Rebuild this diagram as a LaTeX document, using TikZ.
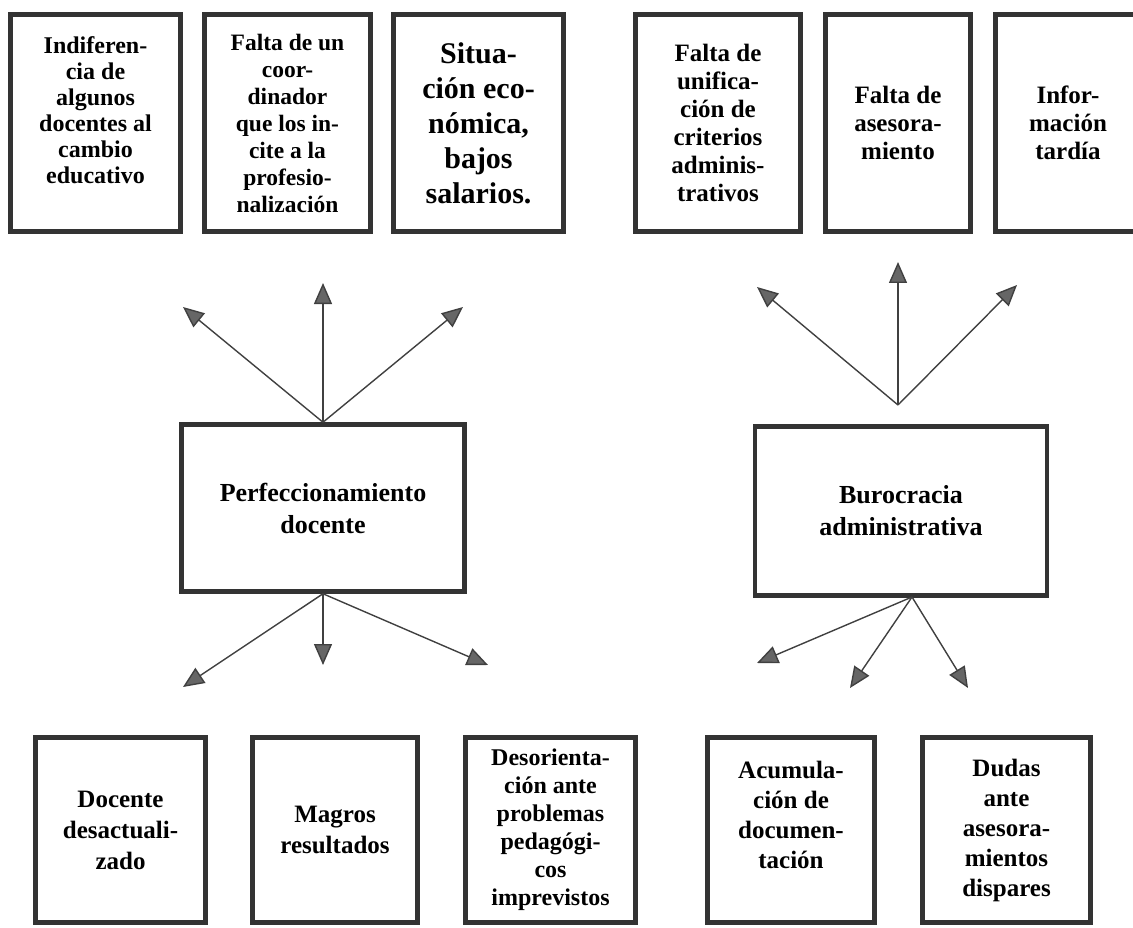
\documentclass[tikz,border=0pt]{standalone}
\usepackage{fontspec}
\setmainfont{Liberation Serif}
\usetikzlibrary{arrows.meta}

\begin{document}
\begin{tikzpicture}[x=1pt,y=-1pt,
  caja/.style={draw=black!80,line width=4.5pt,fill=white,align=center,inner sep=0pt},
  cajaalta/.style={caja,minimum height=217pt},
  cajabaja/.style={caja,minimum height=185pt},
  flecha/.style={draw=black!75,line width=1.4pt,-{Triangle[length=21pt,width=18pt,fill=black!60]}}]
\useasboundingbox (0,0) rectangle (1133,928);

% problemas de arriba
\draw (95.5,123) node[cajaalta,minimum width=170pt,font=\bfseries\fontsize{24}{26}\selectfont](ind) {Indiferen-\\cia de\\algunos\\docentes al\\cambio\\educativo\\\mbox{}};
\draw (287.5,123) node[cajaalta,minimum width=166pt,font=\bfseries\fontsize{23.5}{27}\selectfont](coor) {Falta de un\\coor-\\dinador\\que los in-\\cite a la\\profesio-\\nalización};
\draw (478.5,123) node[cajaalta,minimum width=170pt,font=\bfseries\fontsize{30}{35}\selectfont](sit) {Situa-\\ción eco-\\nómica,\\bajos\\salarios.};
\draw (718,123) node[cajaalta,minimum width=165pt,font=\bfseries\fontsize{25}{28}\selectfont](unif) {Falta de\\unifica-\\ción de\\criterios\\adminis-\\trativos};
\draw (898,123) node[cajaalta,minimum width=145pt,font=\bfseries\fontsize{25}{28}\selectfont](ases) {Falta de\\asesora-\\miento};
\draw (1068,123) node[cajaalta,minimum width=145pt,font=\bfseries\fontsize{25}{28}\selectfont](info) {Infor-\\mación\\tardía};

% centros
\draw (323,508) node[caja,minimum width=283pt,minimum height=167pt,font=\bfseries\fontsize{26}{32}\selectfont](perf) {Perfeccionamiento\\docente};
\draw (901,511) node[caja,minimum width=292pt,minimum height=169pt,font=\bfseries\fontsize{26}{32}\selectfont](buro) {Burocracia\\administrativa};

% consecuencias de abajo
\draw (120.5,830) node[cajabaja,minimum width=170pt,font=\bfseries\fontsize{25}{31}\selectfont](desact) {Docente\\desactuali-\\zado};
\draw (335,830) node[cajabaja,minimum width=165pt,font=\bfseries\fontsize{25}{31}\selectfont](magros) {Magros\\resultados};
\draw (550.5,830) node[cajabaja,minimum width=170pt,font=\bfseries\fontsize{24}{28}\selectfont](desor) {Desorienta-\\ción ante\\problemas\\pedagógi-\\cos\\imprevistos};
\draw (791,830) node[cajabaja,minimum width=167pt,font=\bfseries\fontsize{25}{30}\selectfont](acum) {Acumula-\\ción de\\documen-\\tación\\\mbox{}};
\draw (1006.5,830) node[cajabaja,minimum width=168pt,font=\bfseries\fontsize{25}{30}\selectfont](dudas) {Dudas\\ante\\asesora-\\mientos\\dispares};

% puntas de las flechas
\coordinate (pa1) at (183,307);
\coordinate (pa2) at (323,283);
\coordinate (pa3) at (463,307);
\coordinate (pb1) at (183,687);
\coordinate (pb2) at (323,665);
\coordinate (pb3) at (488,665);
\coordinate (bv) at (898,405);
\coordinate (ba1) at (757,287);
\coordinate (ba2) at (898,262);
\coordinate (ba3) at (1017,285);
\coordinate (bo) at (912,597);
\coordinate (bb1) at (757,663);
\coordinate (bb2) at (850,688);
\coordinate (bb3) at (968,688);

\draw[flecha] (perf.north) -- (pa1);
\draw[flecha] (perf.north) -- (pa2);
\draw[flecha] (perf.north) -- (pa3);
\draw[flecha] (perf.south) -- (pb1);
\draw[flecha] (perf.south) -- (pb2);
\draw[flecha] (perf.south) -- (pb3);
\draw[flecha] (bv) -- (ba1);
\draw[flecha] (bv) -- (ba2);
\draw[flecha] (bv) -- (ba3);
\draw[flecha] (bo) -- (bb1);
\draw[flecha] (bo) -- (bb2);
\draw[flecha] (bo) -- (bb3);
\end{tikzpicture}
\end{document}
